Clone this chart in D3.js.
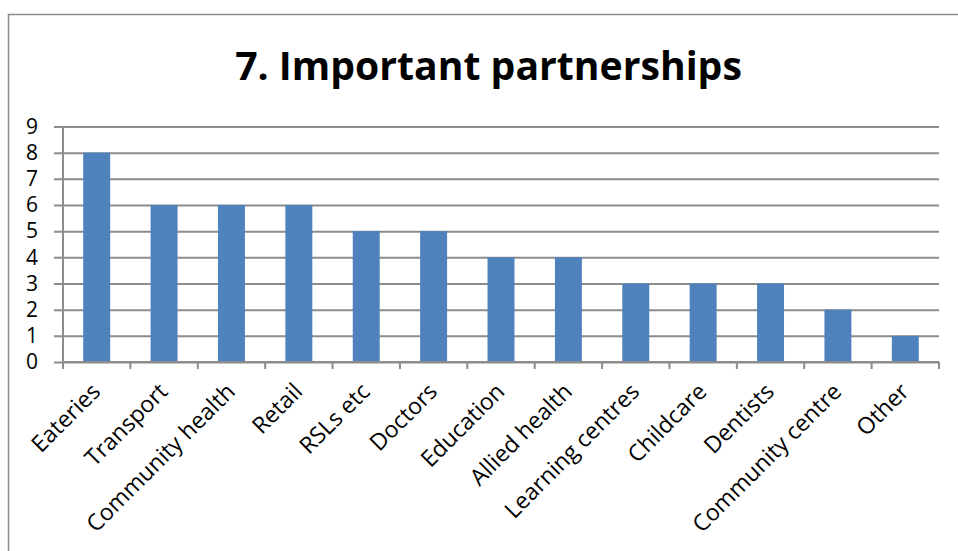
<!DOCTYPE html>
<html>
<head>
<meta charset="utf-8">
<script src="https://cdn.jsdelivr.net/npm/d3@7"></script>
<style>
  html, body { margin: 0; padding: 0; background: #ffffff; }
  svg { display: block; }
</style>
</head>
<body>
<svg id="chart" width="958" height="551"></svg>
<script>
// Partnership counts by category
const title = "7. Important partnerships";
const categories = [
  "Eateries", "Transport", "Community health", "Retail", "RSLs etc",
  "Doctors", "Education", "Allied health", "Learning centres",
  "Childcare", "Dentists", "Community centre", "Other"
];
const values = [8, 6, 6, 6, 5, 5, 4, 4, 3, 3, 3, 2, 1];
const yTicks = [0, 1, 2, 3, 4, 5, 6, 7, 8, 9];

const W = 958, H = 551;
const plot = { left: 63, right: 939, top: 126.5, bottom: 362 };
const gridColor = "#8c8c8c";
const barColor = "#4f81bd";
const axisFont = "'Open Sans', 'Liberation Sans', sans-serif";

const svg = d3.select("#chart");

// Outer chart frame (runs past the right and bottom edges)
svg.append("rect")
  .attr("x", 8.5).attr("y", 14.5)
  .attr("width", W + 20).attr("height", H + 20)
  .attr("fill", "#ffffff")
  .attr("stroke", "#8a8a8a")
  .attr("stroke-width", 1.5);

// Title, sized to its box width
const titleText = svg.append("text")
  .attr("x", 488.5).attr("y", 80)
  .attr("text-anchor", "middle")
  .attr("font-family", "'Open Sans', 'Liberation Sans', sans-serif")
  .attr("font-weight", "bold")
  .attr("font-size", 44)
  .attr("fill", "#000")
  .text(title);
const tw = titleText.node().getComputedTextLength();
titleText.attr("font-size", 44 * 507 / tw);

const x = d3.scaleBand()
  .domain(categories)
  .range([plot.left, plot.right])
  .paddingInner(0.6)
  .paddingOuter(0.3);

const xOuter = d3.scaleBand()
  .domain(categories)
  .range([plot.left, plot.right]);

const y = d3.scaleLinear()
  .domain([0, 9])
  .range([plot.bottom, plot.top]);

// Horizontal gridlines with tick stubs on the left
const yAxis = d3.axisLeft(y)
  .tickValues(yTicks)
  .tickSize(-(plot.right - plot.left))
  .tickPadding(16)
  .tickFormat(d3.format("d"));

const gy = svg.append("g")
  .attr("transform", `translate(${plot.left},0)`)
  .call(yAxis);
gy.select(".domain").remove();
gy.selectAll(".tick line")
  .attr("x1", -9)
  .attr("stroke", gridColor)
  .attr("stroke-width", 2);
gy.selectAll(".tick text")
  .attr("x", -25)
  .attr("font-family", axisFont)
  .attr("font-size", 21)
  .attr("fill", "#000");

// Vertical axis line
svg.append("line")
  .attr("x1", plot.left).attr("x2", plot.left)
  .attr("y1", y(9)).attr("y2", y(0))
  .attr("stroke", gridColor).attr("stroke-width", 2);

// Bars
svg.append("g")
  .selectAll("rect")
  .data(values)
  .join("rect")
  .attr("x", (d, i) => x(categories[i]))
  .attr("y", d => y(d))
  .attr("width", x.bandwidth())
  .attr("height", d => y(0) - y(d))
  .attr("fill", barColor);

// Category axis: baseline, boundary ticks, rotated labels
const boundaries = categories.map(c => xOuter(c)).concat([plot.right]);
svg.append("line")
  .attr("x1", plot.left).attr("x2", plot.right)
  .attr("y1", y(0)).attr("y2", y(0))
  .attr("stroke", gridColor).attr("stroke-width", 2);
svg.append("g")
  .selectAll("line")
  .data(boundaries)
  .join("line")
  .attr("x1", d => d).attr("x2", d => d)
  .attr("y1", y(0)).attr("y2", y(0) + 7)
  .attr("stroke", gridColor).attr("stroke-width", 2);

svg.append("g")
  .selectAll("text")
  .data(categories)
  .join("text")
  .attr("transform", c => `translate(${xOuter(c) + xOuter.bandwidth() / 2 + 5},${y(0) + 31}) rotate(-45)`)
  .attr("text-anchor", "end")
  .attr("font-family", axisFont)
  .attr("font-size", 23)
  .attr("fill", "#000")
  .text(c => c);
</script>
</body>
</html>
